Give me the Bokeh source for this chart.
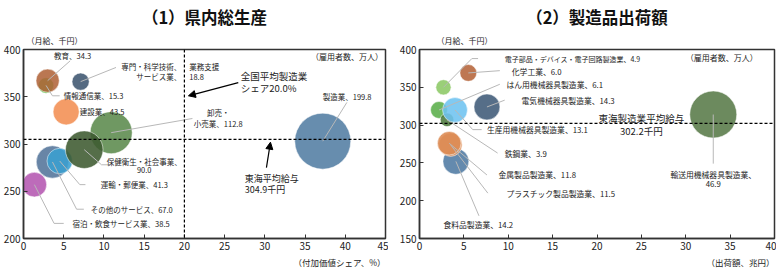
from bokeh.plotting import figure
from bokeh.models import Label, Span, Arrow, NormalHead, FixedTicker, Range1d, Title
from bokeh.layouts import row
from bokeh.embed import file_html
from bokeh.resources import INLINE

FONT = "Noto Sans CJK JP"

# ---------------- Data: (1) 県内総生産 ----------------
ind_names = ["製造業", "宿泊・飲食サービス業", "その他のサービス", "運輸・郵便業", "卸売・小売業",
             "保健衛生・社会事業", "建設業", "情報通信業", "教育", "専門・科学技術、業務支援サービス業"]
ind_share = [37.2, 1.35, 3.6, 4.5, 10.9, 7.55, 5.3, 2.8, 3.0, 7.1]      # 付加価値シェア (%)
ind_wage = [303, 257, 281, 282, 312, 294, 334, 362, 367, 366]           # 月給 (千円)
ind_emp = [199.8, 38.5, 67.0, 41.3, 112.8, 90.0, 43.5, 15.3, 34.3, 18.8]  # 雇用者数 (万人)
ind_colors = ["#527DA3", "#B457B0", "#53749A", "#3A9FD0", "#5B8A4C",
              "#3E5A30", "#F28E52", "#4CC23A", "#B0643A", "#3E5570"]
tokai_avg_wage = 304.9
national_mfg_share = 20.0
x_ticks1 = [0, 5, 10, 15, 20, 25, 30, 35, 40, 45]
y_ticks1 = [200, 250, 300, 350, 400]

# ---------------- Data: (2) 製造品出荷額 ----------------
mfg_names = ["食料品製造業", "プラスチック製品製造業", "金属製品製造業", "はん用機械器具製造業", "鉄鋼業",
             "生産用機械器具製造業", "電子部品・デバイス・電子回路製造業", "化学工業", "電気機械器具製造業",
             "輸送用機械器具製造業"]
mfg_ship = [4.1, 3.5, 3.35, 2.2, 3.1, 4.0, 2.7, 5.5, 7.6, 33.1]          # 出荷額 (兆円)
mfg_wage = [252, 274, 276, 320, 307, 320, 350, 369, 324, 314]           # 月給 (千円)
mfg_emp = [14.2, 11.5, 11.8, 6.1, 3.9, 13.1, 4.9, 6.0, 14.3, 46.9]       # 雇用者数 (万人)
mfg_colors = ["#4F7AA3", "#E39A68", "#DC8A52", "#5AAE4A", "#4C7A3C",
              "#6EC3F0", "#8CC865", "#B5643A", "#3F5A78", "#587A48"]
tokai_mfg_avg_wage = 302.2
x_ticks2 = [0, 5, 10, 15, 20, 25, 30, 35, 40]
y_ticks2 = [150, 200, 250, 300, 350, 400]


def style(p, xt, yt):
    p.xgrid.visible = False
    p.ygrid.visible = False
    p.outline_line_color = "#333333"
    p.outline_line_width = 1.5
    for ax in (p.xaxis, p.yaxis):
        ax.axis_line_color = "#333333"
        ax.axis_line_width = 1.5
        ax.major_tick_in = 4
        ax.major_tick_out = 0
        ax.minor_tick_line_color = None
        ax.major_tick_line_color = "#333333"
        ax.major_label_text_font = FONT
        ax.major_label_text_font_size = "10px"
        ax.major_label_text_color = "#222222"
        ax.major_label_standoff = 3
    p.xaxis.ticker = FixedTicker(ticks=xt)
    p.yaxis.ticker = FixedTicker(ticks=yt)


def titles(p, main, xlabel, off_left):
    p.add_layout(Title(text="（月給、千円）", align="left", text_font=FONT, text_font_size="8px",
                       text_font_style="normal", text_color="#222222", offset=off_left,
                       standoff=8), "above")
    p.add_layout(Title(text=main, align="center", text_font=FONT, text_font_size="16.5px",
                       text_font_style="bold", text_color="#111111", standoff=0), "above")
    p.add_layout(Title(text=xlabel, align="right", text_font=FONT, text_font_size="8.5px",
                       text_font_style="normal", text_color="#222222", standoff=2), "below")


def lab(p, x, y, text, align="left", size="7.5px", style_="normal"):
    p.add_layout(Label(x=x, y=y, text=text, text_align=align, text_baseline="middle",
                       text_font=FONT, text_font_size=size, text_font_style=style_,
                       text_color="#222222"))


# ================= Figure 1 =================
p1 = figure(width=388, height=268, output_backend="svg", toolbar_location=None,
            x_range=Range1d(0, 45), y_range=Range1d(200, 400),
            min_border_left=21, min_border_right=3, min_border_top=44, min_border_bottom=24)
style(p1, x_ticks1, y_ticks1)
titles(p1, "（1）県内総生産", "（付加価値シェア、%）", 3)

p1.scatter(ind_share, ind_wage, size=[3.96 * v ** 0.5 for v in ind_emp],
           fill_color=ind_colors, fill_alpha=0.88, line_color="white", line_alpha=0.5, line_width=1)

p1.add_layout(Span(location=national_mfg_share, dimension="height", line_color="black",
                   line_dash="3 2", line_width=1.2))
p1.add_layout(Span(location=tokai_avg_wage, dimension="width", line_color="black",
                   line_dash="3 2", line_width=1.2))

# leader lines: from each bubble to its label
lead1_x = [[ind_share[8], 5.8], [ind_share[9], 11.5], [ind_share[7], 3.6, 4.5],
           [ind_share[4], 21.0], [ind_share[5], 9.7, 10.7], [ind_share[3], 7.0, 7.7],
           [ind_share[2], 6.6, 7.5], [ind_share[1], 3.8, 5.0], [ind_share[0], 40.2]]
lead1_y = [[ind_wage[8], 388], [ind_wage[9], 381], [ind_wage[7], 351, 351],
           [ind_wage[4], 327], [ind_wage[5], 278, 278], [ind_wage[3], 257, 257],
           [ind_wage[2], 231, 231], [ind_wage[1], 216, 216], [ind_wage[0], 344]]
p1.multi_line(lead1_x, lead1_y, line_color="#B8B8B8", line_width=1)

lab(p1, 3.8, 394, f"教育、{ind_emp[8]}")
lab(p1, 19.6, 382, "専門・科学技術、", align="right")
lab(p1, 19.6, 371, "サービス業、", align="right")
lab(p1, 20.6, 382, "業務支援")
lab(p1, 20.6, 371, f"{ind_emp[9]}")
lab(p1, 5.0, 351, f"情報通信業、{ind_emp[7]}")
lab(p1, 7.0, 334, f"建設業、{ind_emp[6]}")
lab(p1, 24.2, 333, "卸売・", align="center")
lab(p1, 24.2, 322, f"小売業、{ind_emp[4]}", align="center")
lab(p1, 15.0, 282, "保健衛生・社会事業、", align="center")
lab(p1, 15.0, 272, f"{ind_emp[5]:.1f}", align="center")
lab(p1, 9.6, 257, f"運輸・郵便業、{ind_emp[3]}")
lab(p1, 8.35, 231, f"その他のサービス、{ind_emp[2]:.1f}")
lab(p1, 6.1, 216, f"宿泊・飲食サービス業、{ind_emp[1]}")
lab(p1, 37.2, 350, f"製造業、{ind_emp[0]}")
lab(p1, 27.0, 372, "全国平均製造業", size="9.5px")
lab(p1, 27.0, 359, f"シェア{national_mfg_share:.1f}%", size="9.5px")
lab(p1, 27.5, 263, "東海平均給与", size="9px")
lab(p1, 27.5, 252, f"{tokai_avg_wage}千円", size="9px")
lab(p1, 44.7, 393, "（雇用者数、万人）", align="right", size="8px")

p1.add_layout(Arrow(end=NormalHead(size=7, fill_color="black", line_color="black"),
                    x_start=26.7, y_start=365, x_end=20.5, y_end=351,
                    line_color="black", line_width=1.2))
p1.add_layout(Arrow(end=NormalHead(size=7, fill_color="black", line_color="black"),
                    x_start=30.2, y_start=275, x_end=30.7, y_end=tokai_avg_wage - 3,
                    line_color="black", line_width=1.2))

# ================= Figure 2 =================
p2 = figure(width=388, height=268, output_backend="svg", toolbar_location=None,
            x_range=Range1d(0, 40), y_range=Range1d(150, 400),
            min_border_left=31, min_border_right=2, min_border_top=49, min_border_bottom=28)
style(p2, x_ticks2, y_ticks2)
titles(p2, "（2）製造品出荷額", "（出荷額、兆円）", 17)

p2.scatter(mfg_ship, mfg_wage, size=[6.86 * v ** 0.5 for v in mfg_emp],
           fill_color=mfg_colors, fill_alpha=0.88, line_color="white", line_alpha=0.5, line_width=1)

p2.add_layout(Span(location=tokai_mfg_avg_wage, dimension="width", line_color="black",
                   line_dash="3 2", line_width=1.2))

lead2_x = [[mfg_ship[6], 5.9, 6.6], [mfg_ship[7], 9.05], [mfg_ship[3], 9.05], [mfg_ship[8], 9.6],
           [mfg_ship[5], 6.0, 7.0], [mfg_ship[4], 8.8], [mfg_ship[2], 7.6], [mfg_ship[1], 7.7],
           [mfg_ship[0], 6.7], [mfg_ship[9], mfg_ship[9]]]
lead2_y = [[mfg_wage[6], 388, 388], [mfg_wage[7], 372], [mfg_wage[3], 354], [mfg_wage[8], 333],
           [mfg_wage[5], 294, 294], [mfg_wage[4], 263], [mfg_wage[2], 234], [mfg_wage[1], 210],
           [mfg_wage[0], 180], [mfg_wage[9], 249]]
p2.multi_line(lead2_x, lead2_y, line_color="#B8B8B8", line_width=1)

lab(p2, 9.6, 388, f"電子部品・デバイス・電子回路製造業、{mfg_emp[6]}", size="7px")
lab(p2, 10.4, 371, f"化学工業、{mfg_emp[7]}", size="7.8px")
lab(p2, 9.8, 354, f"はん用機械器具製造業、{mfg_emp[3]}", size="7.8px")
lab(p2, 11.5, 333, f"電気機械器具製造業、{mfg_emp[8]}", size="7.8px")
lab(p2, 7.6, 294, f"生産用機械器具製造業、{mfg_emp[5]}", size="7.8px")
lab(p2, 9.6, 263, f"鉄鋼業、{mfg_emp[4]}", size="7.8px")
lab(p2, 8.9, 234, f"金属製品製造業、{mfg_emp[2]}", size="7.8px")
lab(p2, 9.8, 210, f"プラスチック製品製造業、{mfg_emp[1]}", size="7.8px")
lab(p2, 2.7, 168, f"食料品製造業、{mfg_emp[0]}", size="7.8px")
lab(p2, 33.1, 235, "輸送用機械器具製造業、", align="center", size="7.8px")
lab(p2, 33.1, 222, f"{mfg_emp[9]}", align="center", size="7.8px")
lab(p2, 25.0, 310, "東海製造業平均給与", align="center", size="9.5px")
lab(p2, 25.0, 292, f"{tokai_mfg_avg_wage}千円", align="center", size="9.5px")
lab(p2, 38.1, 389.5, "（雇用者数、万人）", align="right", size="8px")

layout = row(p1, p2)
open("out.html", "w").write(file_html(layout, INLINE))
